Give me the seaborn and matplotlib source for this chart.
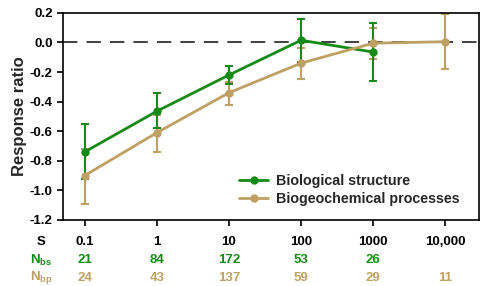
import numpy as np
import pandas as pd
import matplotlib
matplotlib.use("Agg")
import matplotlib.pyplot as plt
import seaborn as sns

scales = ["0.1", "1", "10", "100", "1000", "10,000"]

bs_mean = [-0.74, -0.465, -0.22, 0.015, -0.065]
bs_low = [-0.92, -0.58, -0.28, -0.13, -0.26]
bs_high = [-0.55, -0.34, -0.16, 0.16, 0.13]
bs_n = [21, 84, 172, 53, 26]

bp_mean = [-0.90, -0.61, -0.34, -0.14, -0.005, 0.005]
bp_low = [-1.09, -0.74, -0.42, -0.25, -0.11, -0.18]
bp_high = [-0.72, -0.49, -0.27, -0.035, 0.10, 0.195]
bp_n = [24, 43, 137, 59, 29, 11]

green = "#168a16"
tan = "#bea063"

sns.set_style("ticks")
plt.rcParams["font.family"] = ["Liberation Sans", "DejaVu Sans"]
plt.rcParams["font.weight"] = "bold"
plt.rcParams["mathtext.fontset"] = "custom"
plt.rcParams["mathtext.bf"] = "Liberation Sans:bold"
plt.rcParams["mathtext.rm"] = "Liberation Sans:bold"
plt.rcParams["mathtext.default"] = "bf"

df = pd.concat([
    pd.DataFrame({"pos": np.arange(len(bs_mean)), "ratio": bs_mean,
                  "group": "Biological structure"}),
    pd.DataFrame({"pos": np.arange(len(bp_mean)), "ratio": bp_mean,
                  "group": "Biogeochemical processes"}),
])

fig, ax = plt.subplots(figsize=(4.89, 2.86), dpi=100)
fig.subplots_adjust(left=0.129, right=0.98, bottom=0.231, top=0.955)

ax.axhline(0, color="#333333", lw=1.3, dashes=(8, 5), zorder=1)

# error bars first so lines sit on top
for mean, lo, hi, col in [(bp_mean, bp_low, bp_high, tan), (bs_mean, bs_low, bs_high, green)]:
    m = np.array(mean)
    yerr = [m - np.array(lo), np.array(hi) - m]
    ax.errorbar(np.arange(len(m)), m, yerr=yerr, fmt="none", ecolor=col,
                elinewidth=1.5, capsize=3, capthick=1.5, zorder=2)

sns.lineplot(data=df, x="pos", y="ratio", hue="group",
             hue_order=["Biological structure", "Biogeochemical processes"],
             palette=[green, tan], marker="o", markersize=6, markeredgewidth=0,
             linewidth=2, ax=ax, zorder=3)

yt = [-1.2, -1.0, -0.8, -0.6, -0.4, -0.2, 0.0, 0.2]
ax.set_xlim(-0.3, 5.47)
ax.set_ylim(-1.2, 0.2)
ax.set_yticks(yt)
ax.set_yticklabels([f"{v:.1f}" for v in yt], fontsize=9.5, fontweight="bold")
ax.set_xticks(range(len(scales)))
ax.set_xticklabels([])
ax.tick_params(axis="both", direction="out", length=4, width=1.2, colors="black")
for s in ax.spines.values():
    s.set_linewidth(1.2)
    s.set_color("black")
ax.set_xlabel("")
ax.set_ylabel("Response ratio", fontsize=12, fontweight="bold", labelpad=2)

leg = ax.legend(loc="lower right", bbox_to_anchor=(0.985, 0.005), frameon=False,
                fontsize=10.3, handlelength=2.0, handletextpad=0.6, labelspacing=0.25)
for t in leg.get_texts():
    t.set_fontweight("bold")

trans = ax.get_xaxis_transform()
rows = [(-0.105, scales, "black"),
        (-0.195, bs_n, green),
        (-0.28, bp_n, tan)]
for y, vals, col in rows:
    for i, v in enumerate(vals):
        ax.text(i, y, str(v), transform=trans, ha="center", va="center",
                fontsize=9.5, fontweight="bold", color=col, clip_on=False)
ax.text(-0.6, -0.105, "S", transform=trans, ha="center", va="center",
        fontsize=9.5, fontweight="bold", color="black")
ax.text(-0.6, -0.195, r"$\mathbf{N_{bs}}$", transform=trans, ha="center", va="center",
        fontsize=9.5, color=green)
ax.text(-0.6, -0.28, r"$\mathbf{N_{bp}}$", transform=trans, ha="center", va="center",
        fontsize=9.5, color=tan)

fig.savefig("out.png", dpi=100)
